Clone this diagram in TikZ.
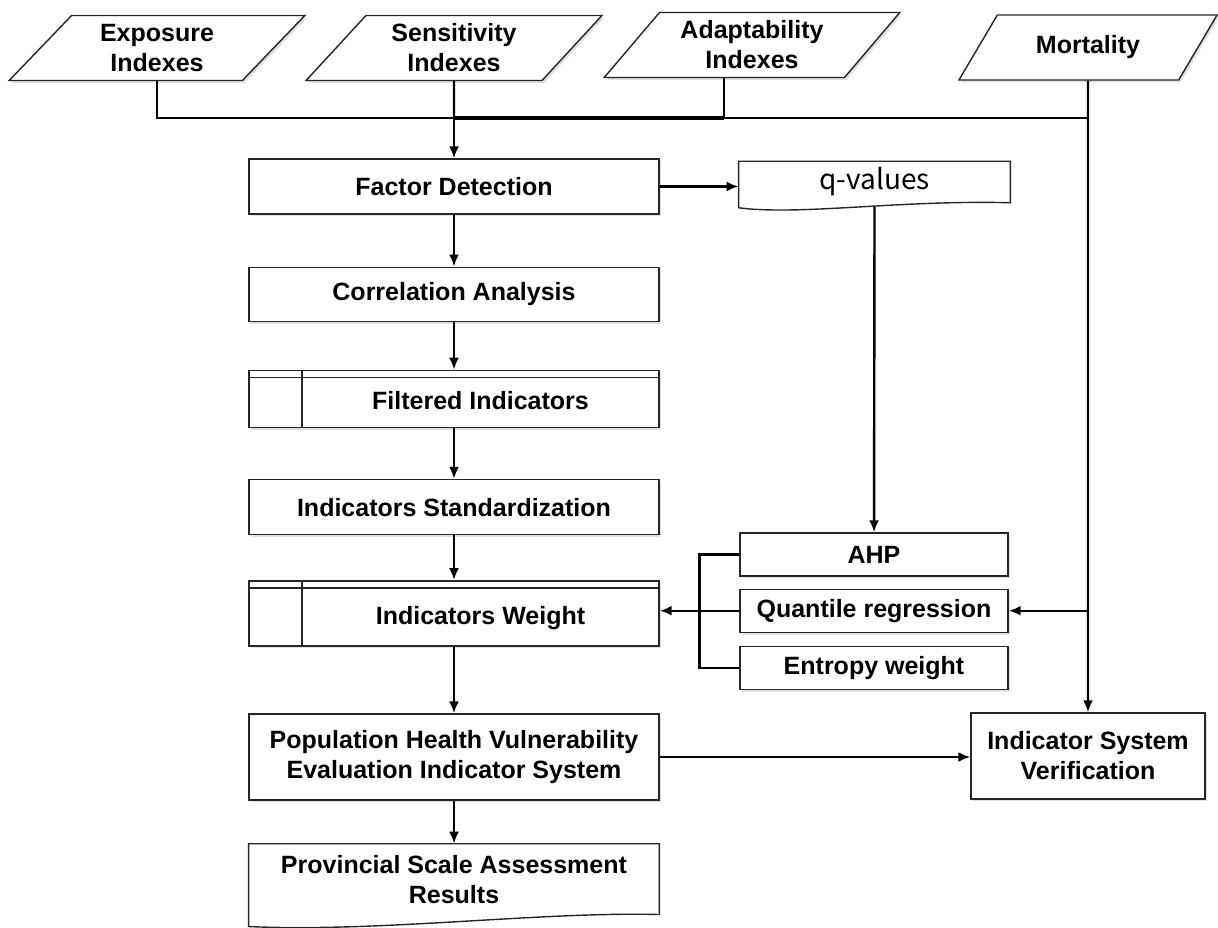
\documentclass[tikz,border=0pt]{standalone}
\usepackage{fontspec}
\setmainfont{Liberation Sans}
\newfontfamily\qvfont{Noto Sans CJK SC}
\usetikzlibrary{positioning, arrows.meta, shapes.geometric, shadows}
\tikzset{
  shade/.style={drop shadow={opacity=0.25, shadow xshift=1pt, shadow yshift=-1.2pt}},
  box/.style={rectangle, draw=black!85, line width=0.7pt, fill=white, align=center,
              font=\bfseries\fontsize{12.5}{15}\selectfont, inner sep=3pt,
              minimum width=205pt, minimum height=27.5pt, shade},
  store/.style={execute at begin node={\hspace*{26.5pt}},
              text height=13.5pt, text depth=2.7pt,
              path picture={
                \draw[line width=0.7pt] ([yshift=-3.5pt]path picture bounding box.north west)
                  -- ([yshift=-3.5pt]path picture bounding box.north east);
                \draw[line width=0.7pt] ([xshift=26.5pt]path picture bounding box.north west)
                  -- ([xshift=26.5pt]path picture bounding box.south west);}},
  sub/.style={box, minimum width=134pt, minimum height=21.5pt},
  io/.style={trapezium, trapezium left angle=50, trapezium right angle=130,
             trapezium stretches=true, draw=black!85, line width=0.7pt, fill=white,
             align=center, font=\bfseries\fontsize{12.5}{15}\selectfont, inner sep=1pt,
             minimum width=148pt, minimum height=32.5pt, shade},
  doc/.style={rectangle, align=center, font=\bfseries\fontsize{12.5}{15}\selectfont,
              inner sep=3pt},
  outline/.style={draw=black!85, line width=0.7pt},
  line/.style={line width=1.2pt},
  arr/.style={-{Latex[length=6pt, width=5pt]}, line width=1.2pt},
}
\begin{document}
\begin{tikzpicture}[x=0.5pt, y=-0.5pt]
  \useasboundingbox (0,0) rectangle (1218,927);
  % inputs
  \node[io] (expo) at (157,48) {Exposure\\Indexes};
  \node[io] (sens) at (454,48) {Sensitivity\\Indexes};
  \node[io] (adap) at (752,45) {Adaptability\\Indexes};
  \node[io, minimum width=130pt] (mort) at (1088,47.5) {Mortality};
  % main column
  \node[box] (fd) at (454,186.5) {Factor Detection};
  \node[box, minimum height=27pt, below=25.9pt of fd] (corr) {Correlation Analysis};
  \node[box, store, minimum height=28.5pt, below=23.9pt of corr] (filt) {Filtered Indicators};
  \node[box, below=25.4pt of filt] (std) {Indicators Standardization};
  \node[box, store, minimum height=32.5pt, below=22.4pt of std] (wt) {Indicators Weight};
  \node[box, minimum height=43pt, below=33.4pt of wt] (phv) {Population Health Vulnerability\\Evaluation Indicator System};
  \node[doc, minimum width=205pt, minimum height=35pt, below=21.5pt of phv] (prov) {Provincial Scale Assessment\\Results};
  \draw[outline] ([yshift=-6pt]prov.south west) -- (prov.north west) -- (prov.north east) -- (prov.south east)
    .. controls +(-120,-3) and +(130,6) .. ([yshift=-6pt]prov.south west) -- cycle;
  % right side
  \node[doc, minimum width=135.5pt, minimum height=18pt, font=\qvfont\fontsize{14}{16}\selectfont] (qv) at (874.5,182) {q-values};
  \draw[outline] ([yshift=-2.5pt]qv.south west) -- (qv.north west) -- (qv.north east) -- (qv.south east)
    .. controls +(-110,-3) and +(60,8) .. ([yshift=-2.5pt]qv.south west) -- cycle;
  \node[sub] (ahp) at (874,554.5) {AHP};
  \node[sub, below=5.9pt of ahp] (quant) {Quantile regression};
  \node[sub, below=6.4pt of quant] (ent) {Entropy weight};
  \node[box, minimum width=117pt, minimum height=43pt] (ver) at (1088,756) {Indicator System\\Verification};
  % connectors
  \coordinate (bus) at (454,118);
  \draw[line] (expo.south) |- (bus);
  \draw[line] (sens.south) -- (bus);
  \draw[line] (adap.bottom side) -- (adap.bottom side |- bus);
  \draw[line, line width=1.7pt] (bus) -- (adap.bottom side |- bus);
  \draw[line] (bus) -- (bus -| mort.south);
  \draw[arr] (bus) -- (fd);
  \draw[arr] (mort.south) -- (ver);
  \coordinate (qin) at (mort.south |- quant.east);
  \draw[arr] (qin) -- (quant);
  \draw[arr] (fd.east) -- (fd.east -| qv.west);
  \draw[arr] ([yshift=-2pt]qv.south) -- (ahp);
  \draw[arr] (fd) -- (corr);
  \draw[arr] (corr) -- (filt);
  \draw[arr] (filt) -- (std);
  \draw[arr] (std) -- (wt);
  \draw[arr] (wt) -- (phv);
  \draw[arr] (phv) -- (prov);
  \coordinate[left=20pt of quant.west] (brk);
  \draw[line] (ahp.west) -| (brk) |- (ent.west);
  \draw[line] (quant.west) -- (brk);
  \draw[arr] (brk) -- (brk -| wt.east);
  \draw[arr] (phv.east) -- (phv.east -| ver.west);
\end{tikzpicture}
\end{document}
